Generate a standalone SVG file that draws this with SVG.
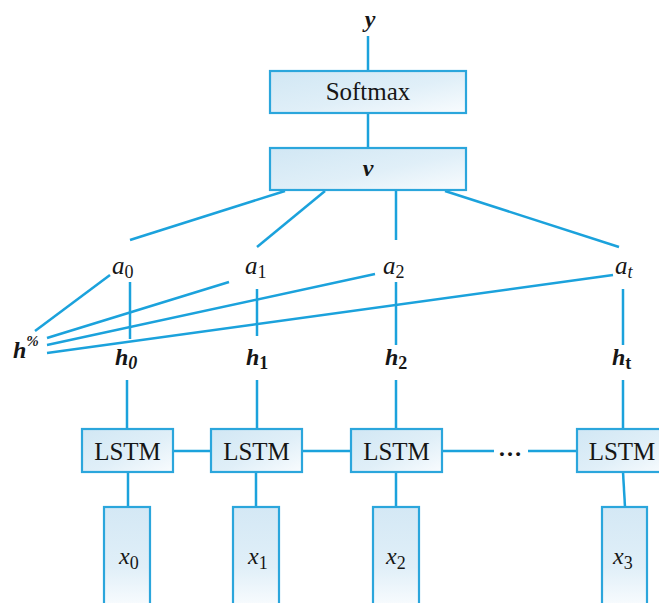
<svg xmlns="http://www.w3.org/2000/svg" width="659" height="603" viewBox="0 0 659 603">
  <defs>
    <linearGradient id="boxFill" x1="0" y1="0" x2="1" y2="1">
      <stop offset="0" stop-color="#d1e7f4"/>
      <stop offset="0.55" stop-color="#e0eff8"/>
      <stop offset="1" stop-color="#f9fcfe"/>
    </linearGradient>
    <linearGradient id="colFill" x1="0" y1="0" x2="0" y2="1">
      <stop offset="0" stop-color="#d4e8f5"/>
      <stop offset="0.6" stop-color="#e0eff8"/>
      <stop offset="1" stop-color="#f9fcfe"/>
    </linearGradient>
  </defs>
  <style>
    .box { fill: url(#boxFill); stroke: #2ba6dc; stroke-width: 2.2; }
    .col { fill: url(#colFill); stroke: #2ba6dc; stroke-width: 2.2; }
    .wire { stroke: #1ba2dc; stroke-width: 2.5; fill: none; stroke-linecap: butt; }
    text { font-family: "Liberation Serif", "Times New Roman", serif; fill: #161616; }
    .lbl { font-size: 25px; }
    .bi { font-size: 24px; font-weight: bold; font-style: italic; }
    .it { font-size: 25px; font-style: italic; }
    .xl { font-size: 24px; font-style: italic; }
    .sub { font-size: 18px; font-style: normal; }
    .subi { font-size: 18px; font-style: italic; }
  </style>

  <!-- connectors -->
  <g id="connectors" class="wire">
    <line x1="368" y1="36" x2="368" y2="71"/>
    <line x1="368" y1="113" x2="368" y2="148"/>
    <!-- v to attention weights -->
    <line x1="285" y1="191" x2="130" y2="240"/>
    <line x1="325" y1="191" x2="257" y2="247"/>
    <line x1="396" y1="191" x2="396" y2="240"/>
    <line x1="445" y1="191" x2="619" y2="247"/>
    <!-- h% to attention weights -->
    <line x1="35" y1="331" x2="110" y2="275"/>
    <line x1="47" y1="338" x2="229" y2="282"/>
    <line x1="47" y1="345" x2="375" y2="274"/>
    <line x1="47" y1="353" x2="613" y2="275"/>
    <!-- attention weights to hidden states -->
    <line x1="130" y1="282" x2="130" y2="339"/>
    <line x1="257" y1="289" x2="257" y2="336"/>
    <line x1="396" y1="282" x2="396" y2="345"/>
    <line x1="623" y1="289" x2="623" y2="345"/>
    <!-- hidden states to LSTM cells -->
    <line x1="127" y1="380" x2="127" y2="429"/>
    <line x1="257" y1="380" x2="257" y2="429"/>
    <line x1="396" y1="380" x2="396" y2="429"/>
    <line x1="623" y1="380" x2="623" y2="429"/>
    <!-- recurrent links -->
    <line x1="173" y1="451" x2="211" y2="451"/>
    <line x1="302" y1="451" x2="351" y2="451"/>
    <line x1="442" y1="451" x2="494" y2="451"/>
    <line x1="528" y1="451" x2="577" y2="451"/>
    <!-- inputs to LSTM cells -->
    <line x1="128" y1="472" x2="128" y2="507"/>
    <line x1="256" y1="472" x2="256" y2="507"/>
    <line x1="396" y1="472" x2="396" y2="507"/>
    <line x1="623" y1="472" x2="625" y2="507"/>
  </g>

  <g id="out-y">
    <text class="bi" x="370" y="27" text-anchor="middle">y</text>
  </g>
  <g id="softmax">
    <rect class="box" x="270" y="71" width="196" height="42"/>
    <text class="lbl" x="368" y="100" text-anchor="middle">Softmax</text>
  </g>
  <g id="context-v">
    <rect class="box" x="270" y="148" width="196" height="42"/>
    <text class="bi" x="368" y="176" text-anchor="middle">v</text>
  </g>

  <g id="a0"><text class="it" x="112" y="274">a<tspan class="sub" dy="4">0</tspan></text></g>
  <g id="a1"><text class="it" x="245" y="274">a<tspan class="sub" dy="4">1</tspan></text></g>
  <g id="a2"><text class="it" x="383" y="274">a<tspan class="sub" dy="4">2</tspan></text></g>
  <g id="at"><text class="it" x="615" y="274">a<tspan class="subi" dy="4">t</tspan></text></g>

  <g id="h-final"><text class="bi" x="13" y="358">h<tspan font-size="15" dy="-12">%</tspan></text></g>
  <g id="h0"><text class="bi" x="115" y="365">h<tspan font-size="18" dy="4">0</tspan></text></g>
  <g id="h1"><text class="bi" x="246" y="365">h<tspan style="font-size:18px;font-style:normal" dy="4">1</tspan></text></g>
  <g id="h2"><text class="bi" x="385" y="365">h<tspan style="font-size:18px;font-style:normal" dy="4">2</tspan></text></g>
  <g id="ht"><text class="bi" x="612" y="365">h<tspan style="font-size:18px;font-style:normal" dy="4">t</tspan></text></g>

  <g id="lstm0">
    <rect class="box" x="82" y="429" width="91" height="43"/>
    <text class="lbl" x="127.5" y="460" text-anchor="middle">LSTM</text>
  </g>
  <g id="lstm1">
    <rect class="box" x="211" y="429" width="91" height="43"/>
    <text class="lbl" x="256.5" y="460" text-anchor="middle">LSTM</text>
  </g>
  <g id="lstm2">
    <rect class="box" x="351" y="429" width="91" height="43"/>
    <text class="lbl" x="396.5" y="460" text-anchor="middle">LSTM</text>
  </g>
  <g id="ellipsis">
    <text x="510" y="456" text-anchor="middle" font-size="24" font-weight="bold">…</text>
  </g>
  <g id="lstm3">
    <rect class="box" x="577" y="429" width="92" height="43"/>
    <text class="lbl" x="622" y="460" text-anchor="middle">LSTM</text>
  </g>

  <g id="x0">
    <rect class="col" x="104" y="507" width="46" height="100"/>
    <text class="xl" x="119" y="564">x<tspan class="sub" dy="5">0</tspan></text>
  </g>
  <g id="x1">
    <rect class="col" x="233" y="507" width="46" height="100"/>
    <text class="xl" x="248" y="564">x<tspan class="sub" dy="5">1</tspan></text>
  </g>
  <g id="x2">
    <rect class="col" x="373" y="507" width="46" height="100"/>
    <text class="xl" x="386" y="564">x<tspan class="sub" dy="5">2</tspan></text>
  </g>
  <g id="x3">
    <rect class="col" x="602" y="507" width="45" height="100"/>
    <text class="xl" x="613" y="564">x<tspan class="sub" dy="5">3</tspan></text>
  </g>
</svg>
